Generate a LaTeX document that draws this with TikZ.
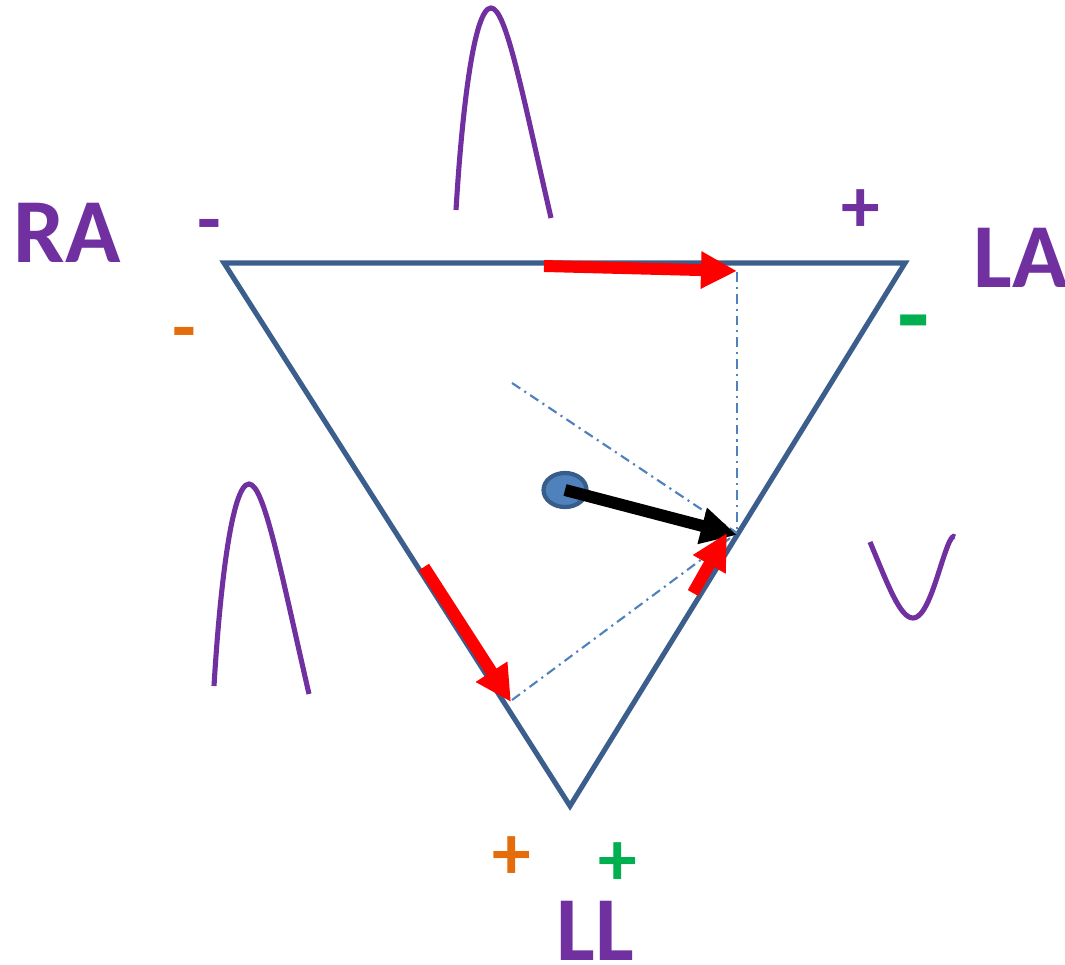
\documentclass[tikz,border=0pt]{standalone}
\usepackage{fontspec}
\setmainfont{Carlito}
\usetikzlibrary{arrows.meta,shapes.geometric}
\definecolor{tri}{HTML}{3B5E8C}
\definecolor{dashc}{HTML}{4F81BD}
\definecolor{purp}{HTML}{7030A0}
\definecolor{orng}{HTML}{E46C0A}
\definecolor{grn}{HTML}{00B050}
\definecolor{dotfill}{HTML}{4F81BD}
\definecolor{dotline}{HTML}{385D8A}
\begin{document}
\begin{tikzpicture}[x=0.01cm,y=-0.01cm,
  triline/.style={draw=tri,line width=1.45pt,line join=miter},
  guide/.style={draw=dashc,line width=0.6pt,dash pattern=on 2.8pt off 1.4pt on 0.6pt off 1.4pt},
  wave/.style={draw=purp,line width=1.45pt},
  vecarrow/.style={line width=3.4pt,-{Triangle[length=0.36cm,width=0.35cm]}},
  lead/.style={font=\fontsize{26}{30}\selectfont\bfseries,text=purp,inner sep=0pt},
  sign/.style={font=\fontsize{22}{26}\selectfont\bfseries,inner sep=0pt}]
\useasboundingbox (0,0) rectangle (1065,964);
% triangle
\coordinate (ra) at (224,263);
\coordinate (la) at (905,263);
\coordinate (ll) at (570,806);
\draw[triline] (ra) -- (la) -- (ll) -- cycle;
% guide lines
\coordinate (meet) at (737,533);
\coordinate (topfoot) at (737,272);
\coordinate (g1) at (512,383);
\coordinate (g2) at (512,700);
\draw[guide] (topfoot) -- (meet);
\draw[guide] (g1) -- (meet);
\draw[guide] (g2) -- (meet);
% red arrows
\coordinate (t1) at (544,266);
\coordinate (t2) at (737,271);
\draw[vecarrow,red] (t1) -- (t2);
\coordinate (l1) at (424,567);
\coordinate (l2) at (511,702);
\draw[vecarrow,red] (l1) -- (l2);
% dot and black arrow
\node[ellipse,draw=dotline,fill=dotfill,line width=1.2pt,minimum width=0.43cm,minimum height=0.34cm,inner sep=0pt] (dot) at (565,490) {};
\coordinate (b2) at (737,535);
\draw[vecarrow,black] (dot.center) -- (b2);
\coordinate (s1) at (693,593);
\coordinate (s2) at (727,533);
\draw[vecarrow,red] (s1) -- (s2);
% waveforms
\draw[wave] (456,210) .. controls (462,110) and (474,8) .. (491,8) .. controls (506,8) and (522,92) .. (551,218);
\draw[wave,shift={(-242,476)}] (456,210) .. controls (462,110) and (474,8) .. (491,8) .. controls (506,8) and (522,92) .. (551,218);
\draw[wave] (870,542) .. controls (888,585) and (900,618) .. (913,618) .. controls (928,618) and (938,570) .. (948,545) .. controls (951,538) and (953,535) .. (955,537);
% labels
\node[lead,anchor=base] (RA) at (67,262) {RA};
\node[lead,anchor=base west] (LA) at (973,287) {LA};
\node[lead,anchor=base] (LL) at (595,960) {LL};
% signs
\node[sign,text=purp] (s-ra) at (209,232) {-};
\node[sign,text=orng] (s-ra2) at (184,340) {-};
\node[sign,text=purp] (s-la) at (861,211) {+};
\node[sign,text=grn,font=\fontsize{30}{34}\selectfont\bfseries] (s-la2) at (914,333) {-};
\node[sign,text=orng] (s-ll) at (512,858) {+};
\node[sign,text=grn] (s-ll2) at (618,864) {+};
\end{tikzpicture}
\end{document}
